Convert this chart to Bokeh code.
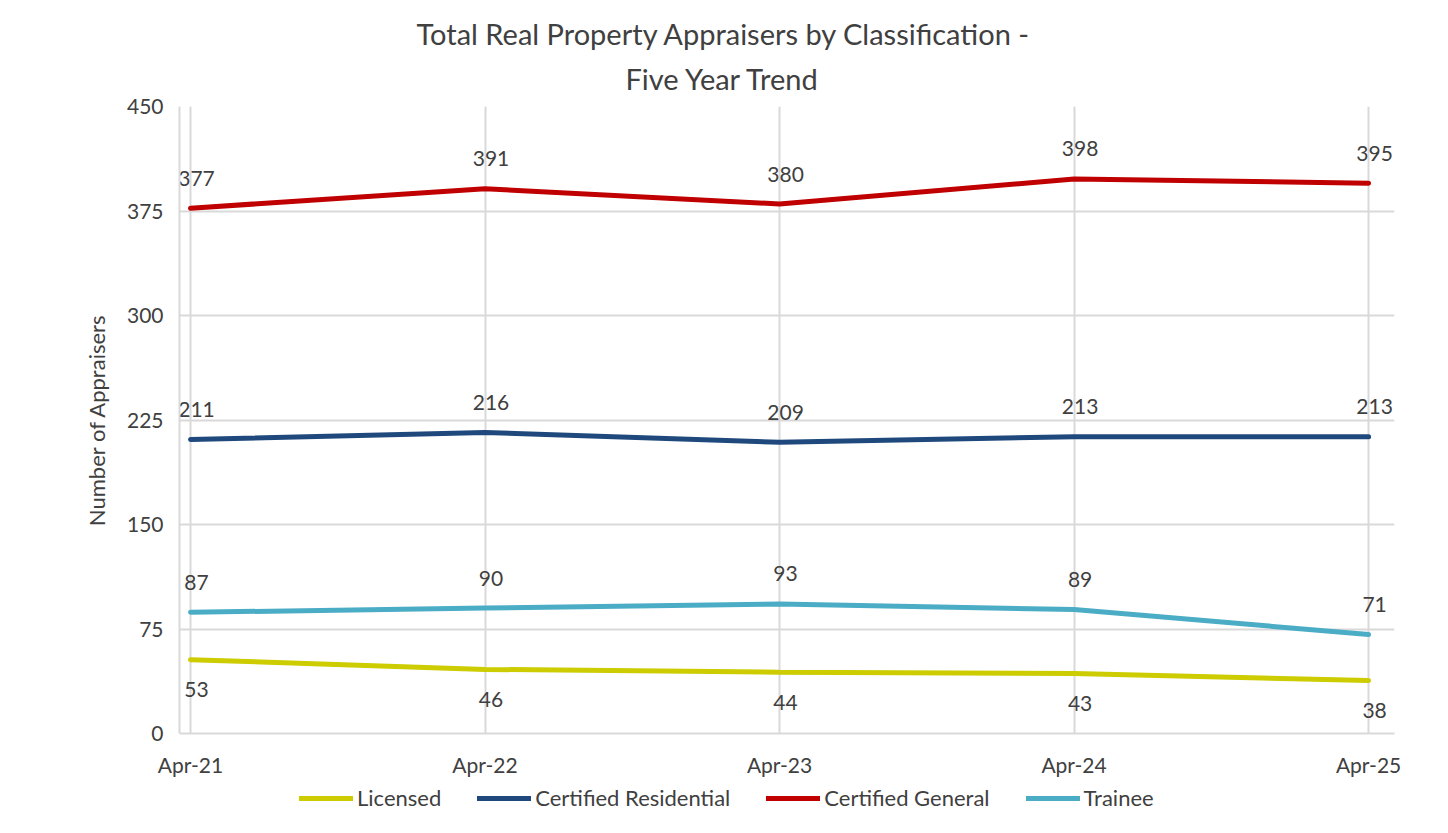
from bokeh.plotting import figure
from bokeh.layouts import column
from bokeh.models import FixedTicker, Title, Legend, LegendItem, ColumnDataSource, Range1d
from bokeh.core.properties import value
from bokeh.embed import file_html
from bokeh.resources import INLINE

categories = ["Apr-21", "Apr-22", "Apr-23", "Apr-24", "Apr-25"]
licensed = [53, 46, 44, 43, 38]
cert_residential = [211, 216, 209, 213, 213]
cert_general = [377, 391, 380, 398, 395]
trainee = [87, 90, 93, 89, 71]
y_ticks = [0, 75, 150, 225, 300, 375, 450]

FONT = "Lato"
TXT = "#404040"

p = figure(width=1432, height=780, output_backend="svg", toolbar_location=None,
           x_range=Range1d(-0.0374, 4.088), y_range=Range1d(0, 450),
           min_border_left=179, min_border_right=38, min_border_top=106, min_border_bottom=47)
p.outline_line_color = None
p.background_fill_color = "white"
p.border_fill_color = "white"

p.add_layout(Title(text="Five Year Trend", align="left", offset=446, text_font=FONT, text_font_size="29px",
                   text_font_style="normal", text_color=TXT, standoff=22), "above")
p.add_layout(Title(text="Total Real Property Appraisers by Classification -", align="left", offset=237,
                   text_font=FONT, text_font_size="29px", text_font_style="normal", text_color=TXT,
                   standoff=-6), "above")

xs = list(range(len(categories)))
series = [
    ("Licensed", licensed, "#CCCC00", 30),
    ("Certified Residential", cert_residential, "#1F497D", -30),
    ("Certified General", cert_general, "#C00000", -30),
    ("Trainee", trainee, "#4BACC6", -30),
]
for name, vals, color, off in series:
    src = ColumnDataSource(dict(x=xs, y=vals, t=[str(v) for v in vals]))
    p.line("x", "y", source=src, line_color=color, line_width=5, line_cap="round")
    p.text("x", "y", text="t", source=src, y_offset=off, x_offset=6, text_align="center",
           text_baseline="middle", text_font=value(FONT), text_font_size="21px", text_color=TXT)

p.xaxis.ticker = FixedTicker(ticks=xs)
p.xaxis.major_label_overrides = {i: c for i, c in enumerate(categories)}
p.yaxis.ticker = FixedTicker(ticks=y_ticks)
p.xgrid.ticker = FixedTicker(ticks=xs)
p.ygrid.ticker = FixedTicker(ticks=y_ticks)
for g in (p.xgrid, p.ygrid):
    g.grid_line_color = "#D9D9D9"
    g.grid_line_width = 2
for ax in (p.xaxis, p.yaxis):
    ax.axis_line_color = "#D9D9D9"
    ax.axis_line_width = 2
    ax.major_tick_line_color = None
    ax.minor_tick_line_color = None
    ax.major_label_text_font = FONT
    ax.major_label_text_font_size = "21px"
    ax.major_label_text_color = TXT
p.yaxis.major_label_standoff = 10
p.xaxis.major_label_standoff = 12
p.yaxis.axis_label = "Number of Appraisers"
p.yaxis.axis_label_text_font = FONT
p.yaxis.axis_label_text_font_size = "22px"
p.yaxis.axis_label_text_font_style = "normal"
p.yaxis.axis_label_text_color = TXT
p.yaxis.axis_label_standoff = 14

# legend strip
lg = figure(width=1432, height=37, output_backend="svg", toolbar_location=None,
            x_range=Range1d(0, 1), y_range=Range1d(0, 1),
            x_axis_location=None, y_axis_location=None,
            min_border_left=0, min_border_right=0, min_border_top=0, min_border_bottom=0)
lg.outline_line_color = None
lg.grid.visible = False
items = []
for name, vals, color, off in series:
    r = lg.line(x=[-2, -1], y=[-2, -2], line_color=color, line_width=5, line_cap="round")
    items.append(LegendItem(label=name, renderers=[r]))
legend = Legend(items=items, orientation="horizontal", location=(120, 6),
                label_text_font=FONT, label_text_font_size="22px", label_text_color=TXT,
                glyph_width=54, glyph_height=20, spacing=36, label_standoff=4,
                border_line_color=None, background_fill_alpha=0, padding=4, margin=0)
lg.add_layout(legend, "center")

layout = column(p, lg, spacing=0)
open("out.html", "w").write(file_html(layout, INLINE))
